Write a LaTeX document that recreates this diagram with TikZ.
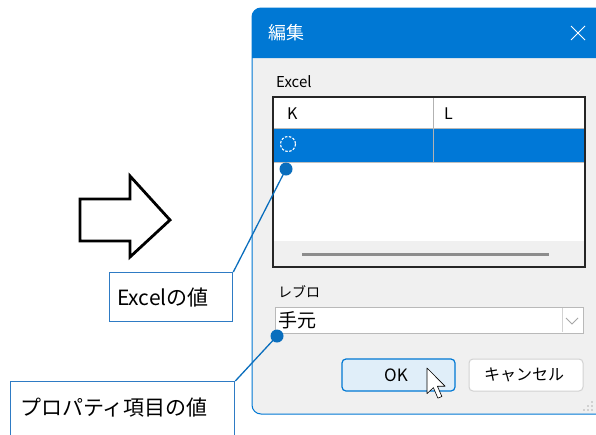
\documentclass[tikz,border=0pt]{standalone}
\usepackage{fontspec}
\setmainfont{Noto Sans CJK JP}
\definecolor{titleblue}{HTML}{0078D4}
\definecolor{selblue}{HTML}{0078D7}
\definecolor{callblue}{HTML}{0A6EBD}
\definecolor{boxblue}{HTML}{2E7BC4}
\definecolor{dlggray}{HTML}{F0F0F0}
\definecolor{okfill}{HTML}{E0EEF9}
\begin{document}
\begin{tikzpicture}[x=1pt,y=-1pt,
  lbl/.style={font=\fontsize{15}{17}\selectfont, anchor=west, text=black, inner sep=0},
  callbox/.style={draw=boxblue, line width=1.3pt, fill=white},
  calltxt/.style={font=\fontsize{21}{23}\selectfont, text=black, anchor=west, inner sep=0},
  callline/.style={draw=callblue, line width=1.3pt},
  calldot/.style={circle, fill=callblue, minimum size=13pt, inner sep=0},
  btn/.style={rounded corners=4pt, line width=1pt}]
\useasboundingbox (0,0) rectangle (596,434);
\fill[white] (0,0) rectangle (596,434);
\begin{scope}
\clip (0,0) rectangle (596,434);
% window
\draw[fill=dlggray, draw=titleblue, line width=1pt, rounded corners=9pt] (252,8) rectangle (620,414);
\fill[titleblue] (252,58) [rounded corners=9pt] -- (252,8) -- (620,8) [sharp corners] -- (620,58) -- cycle;
\node[font=\fontsize{18}{20}\selectfont, text=white, anchor=west, inner sep=0] (title) at (268,33) {編集};
\draw[white, line width=0.9pt] (571,26) -- (585,40) (585,26) -- (571,40);
% Excel label
\node[lbl] (excellbl) at (276,82) {Excel};
% table
\fill[white] (273,97) rectangle (585,267);
\fill[selblue] (274,128) rectangle (584,162);
\fill[dlggray] (274,241) rectangle (584,266);
\draw[gray!60, line width=0.8pt] (433,97) -- (433,162);
\draw[gray!50, line width=0.8pt] (274,162.5) -- (584,162.5);
\draw[gray!55, line width=0.6pt] (274,128) -- (584,128);
\draw[black!85, line width=1.4pt] (273,97) rectangle (585,267);
\draw[black!45, line width=3pt] (302,254) -- (549,254);
\node[lbl, font=\fontsize{16}{18}\selectfont] (colK) at (287,114) {K};
\node[lbl, font=\fontsize{16}{18}\selectfont] (colL) at (444,114) {L};
\draw[white, dash pattern=on 2.5pt off 1.5pt, line width=1.1pt] (288,144) circle (7.5);
% combo
\node[lbl, font=\fontsize{14}{16}\selectfont] (reburo) at (278,292) {レブロ};
\draw[fill=white, draw=gray!55, line width=0.8pt] (275,307) rectangle (583,333);
\draw[gray!35, line width=0.8pt] (562,308) -- (562,332);
\draw[gray!70, line width=0.8pt] (566,318) -- (572,324) -- (578,318);
\node[font=\fontsize{19}{21}\selectfont, anchor=west, inner sep=0] (temoto) at (278,320) {手元};
% buttons
\draw[btn, fill=okfill, draw=titleblue, line width=1.2pt] (342,359) rectangle (455,391);
\node[font=\fontsize{17}{19}\selectfont, inner sep=0] (ok) at (396,375) {OK};
\draw[btn, fill=white, draw=gray!35] (469,359) rectangle (583,391);
\node[font=\fontsize{16}{18}\selectfont, inner sep=0] (cancel) at (524,375) {キャンセル};
% cursor
\begin{scope}[shift={(427,368)}, scale=1.6]
\draw[fill=white, draw=black, line width=0.6pt, line join=round]
  (0,0) -- (0,16) -- (4,12.3) -- (6.8,18.8) -- (9.3,17.8) -- (6.5,11.4) -- (11.3,11.4) -- cycle;
\end{scope}
% resize grip
\foreach \p in {(592,402),(592,406),(588,406),(592,410),(588,410),(584,410)}
  \fill[gray!60] \p circle (0.8);
\end{scope}
% hollow arrow
\draw[line width=2.8pt, fill=white, line join=miter]
  (80,199) -- (130,199) -- (130,176) -- (170,220) -- (130,257) -- (130,241) -- (80,241) -- cycle;
% callouts
\node[callbox, minimum width=123pt, minimum height=49pt, anchor=north west, inner sep=0] (box1) at (109,272) {};
\node[calltxt] (t1) at (117,298) {Excelの値};
\begin{scope}
\clip (0,0) rectangle (596,434);
\node[callbox, minimum width=224pt, minimum height=70pt, anchor=north west, inner sep=0] (box2) at (10,381) {};
\end{scope}
\node[calltxt] (t2) at (20,408) {プロパティ項目の値};
\node[calldot] (dot1) at (286,169) {};
\node[calldot] (dot2) at (277,336) {};
\draw[callline] (dot1.center) -- (box1.north east);
\draw[callline] (dot2.center) -- (box2.north east);
\end{tikzpicture}
\end{document}
